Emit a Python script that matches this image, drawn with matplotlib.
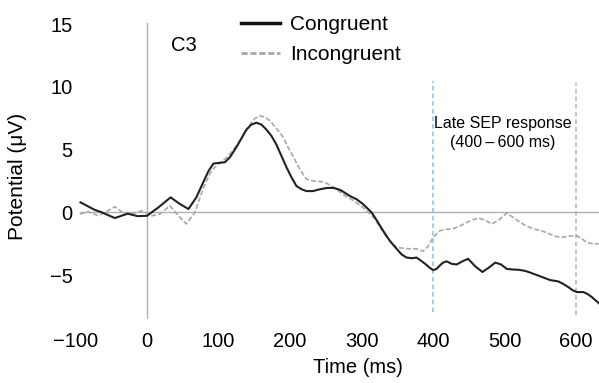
import matplotlib
matplotlib.use("Agg")
import matplotlib.pyplot as plt
from matplotlib.lines import Line2D

plt.rcParams["font.family"] = ["Liberation Sans", "DejaVu Sans"]

# ----------- DATA -----------
time_con = [-93, -73, -63, -45, -27, -13, 0, 16, 33, 46, 58, 69, 77, 86, 93, 101, 109,
            116, 125, 132, 139, 146, 153, 160, 167, 174, 181, 188, 195, 202, 209, 216,
            223, 232, 242, 252, 261, 270, 284, 293, 302, 314, 322, 330, 340, 349, 356,
            363, 370, 377, 389, 395, 400, 405, 410, 414, 419, 426, 433, 441, 449, 459,
            469, 478, 487, 495, 503, 511, 519, 528, 536, 543, 550, 557, 564, 575, 582,
            589, 595, 601, 610, 616, 622, 628, 633]
congruent = [0.8, 0.2, 0.0, -0.45, -0.1, -0.3, -0.27, 0.4, 1.2, 0.67, 0.27, 1.2, 2.2,
             3.3, 3.9, 3.95, 4.0, 4.4, 5.2, 5.9, 6.6, 7.0, 7.15, 7.0, 6.6, 6.1, 5.4, 4.5,
             3.6, 2.8, 2.1, 1.85, 1.7, 1.7, 1.85, 1.95, 1.95, 1.8, 1.3, 1.05, 0.67, 0.0,
             -0.7, -1.45, -2.3, -2.9, -3.35, -3.6, -3.65, -3.6, -4.1, -4.4, -4.6, -4.5,
             -4.2, -4.0, -3.9, -4.1, -4.15, -3.9, -3.7, -4.3, -4.75, -4.4, -4.0, -4.15,
             -4.5, -4.55, -4.57, -4.65, -4.8, -4.95, -5.1, -5.25, -5.4, -5.5, -5.7,
             -5.95, -6.2, -6.35, -6.35, -6.5, -6.75, -7.05, -7.3]

time_inc = [-94, -82, -68, -59, -45, -31, -21, -7, 7, 18, 32, 44, 55, 67, 79, 90, 95,
            114, 130, 144, 151, 158, 165, 172, 181, 191, 198, 205, 214, 223, 233, 244,
            252, 261, 268, 275, 289, 302, 317, 326, 335, 349, 358, 368, 377, 386, 393,
            400, 405, 410, 419, 428, 437, 447, 455, 463, 472, 482, 492, 503, 512, 522,
            531, 540, 550, 559, 568, 578, 590, 601, 608, 615, 624, 632]
incongruent = [-0.13, 0.05, -0.27, 0.0, 0.45, -0.13, -0.1, 0.13, -0.27, -0.13, 0.53,
               -0.27, -0.92, 0.0, 2.0, 3.3, 3.6, 4.5, 5.7, 7.0, 7.5, 7.7, 7.6, 7.3, 6.7,
               5.95, 5.1, 4.4, 3.4, 2.65, 2.5, 2.45, 2.3, 2.0, 1.7, 1.4, 0.93, 0.4, -0.4,
               -1.2, -2.0, -2.8, -2.85, -2.9, -2.9, -3.1, -2.7, -2.0, -1.7, -1.45, -1.35,
               -1.3, -1.1, -0.8, -0.6, -0.45, -0.6, -0.92, -0.6, -0.05, -0.4, -0.8,
               -1.1, -1.3, -1.45, -1.6, -1.85, -2.0, -1.9, -1.85, -2.1, -2.4, -2.5, -2.5]

x_ticks = [-100, 0, 100, 200, 300, 400, 500, 600]
y_ticks = [-5, 0, 5, 10, 15]
window = [400, 600]

# ----------- FIGURE -----------
fig = plt.figure(figsize=(5.99, 3.83), dpi=100)
ax = fig.add_axes([0.126, 0.167, 0.874, 0.773])

GRAY_AX = "#b0b0b0"
ax.axvline(0, color=GRAY_AX, lw=1.0, zorder=1)
ax.hlines(0, time_con[0], 640, color=GRAY_AX, lw=1.0, zorder=1)

# late SEP window markers
ax.vlines(window, [-7.9, -8.2], [10.45, 10.3], color="#8fbde6", lw=1.1,
          linestyles=(0, (3, 2)), zorder=1)

ax.plot(time_inc, incongruent, color="#a8a8a8", lw=1.2, ls=(0, (3, 1.3)), zorder=2)
ax.plot(time_con, congruent, color="#222222", lw=1.5, zorder=3)

ax.set_xlim(-100, 632)
ax.set_ylim(-8.5, 15.1)
ax.set_xticks(x_ticks)
ax.set_yticks(y_ticks)
ax.tick_params(length=0, labelsize=14.5)
ax.tick_params(axis="x", pad=9)
ax.tick_params(axis="y", pad=2)
for s in ax.spines.values():
    s.set_visible(False)

ax.set_xlabel("Time (ms)", fontsize=14.5)
ax.xaxis.set_label_coords(0.54, -0.13)
ax.set_ylabel("Potential (μV)", fontsize=15)
ax.yaxis.set_label_coords(-0.092, 0.48)

ax.text(52, 13.3, "C3", fontsize=14.5, ha="center", va="center")
ax.text(497, 6.35, "Late SEP response\n(400\u2009\u2013\u2009600 ms)", fontsize=11.5,
        ha="center", va="center", linespacing=1.35)

handles = [Line2D([], [], color="#111111", lw=2.5),
           Line2D([], [], color="#a8a8a8", lw=2.0, ls=(0, (2.2, 1.0)))]
ax.legend(handles, ["Congruent", "Incongruent"], loc="upper left",
          bbox_to_anchor=(241 / 599, 1 - 15 / 383), bbox_transform=fig.transFigure,
          frameon=False, fontsize=15, handlelength=1.85, handletextpad=0.5,
          labelspacing=0.55, borderpad=0, borderaxespad=0)

fig.savefig("out.png", dpi=100)
